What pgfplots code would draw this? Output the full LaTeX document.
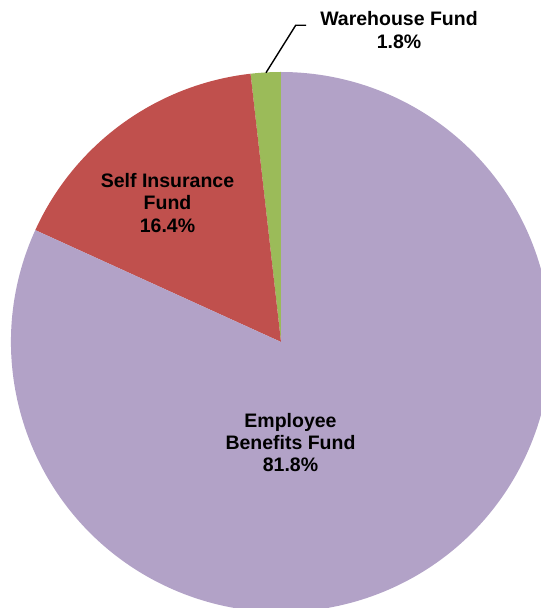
\documentclass[border=0pt]{standalone}
\usepackage{pgfplots}
\pgfplotsset{compat=1.18}
\usepackage{fontspec}
\setmainfont{Liberation Sans}
\definecolor{cpurple}{HTML}{B2A2C7}
\definecolor{cred}{HTML}{C0504D}
\definecolor{cgreen}{HTML}{9BBB59}
\begin{document}
\begin{tikzpicture}
\begin{axis}[scale only axis, width=541pt, height=608pt,
  xmin=0, xmax=541, ymin=0, ymax=608, hide axis, clip=true]
% shares (percent), counter-clockwise from 12 o'clock
\def\pW{1.8}\def\pS{16.4}\def\pE{81.8}
\fill[cgreen] (axis cs:281,266) -- ++(90:270pt)
  arc[start angle=90, end angle={90+3.6*\pW}, radius=270pt] -- cycle;
\fill[cred] (axis cs:281,266) -- ++({90+3.6*\pW}:270pt)
  arc[start angle={90+3.6*\pW}, end angle={90+3.6*(\pW+\pS)}, radius=270pt] -- cycle;
\fill[cpurple] (axis cs:281,266) -- ++({90+3.6*(\pW+\pS)}:270pt)
  arc[start angle={90+3.6*(\pW+\pS)}, end angle={90+3.6*(\pW+\pS+\pE)}, radius=270pt] -- cycle;
\draw[black, line width=1.4pt] (axis cs:266,535.3) -- (axis cs:295.7,582.7) -- (axis cs:306,582.7);
\begin{scope}[every node/.style={anchor=base, inner sep=0pt, font=\bfseries\fontsize{19.5}{22.5}\selectfont}]
\node at (axis cs:399,582) {Warehouse Fund};
\node at (axis cs:399,559.3) {1.8\%};
\node at (axis cs:167.5,420.3) {Self Insurance};
\node at (axis cs:167.5,398) {Fund};
\node at (axis cs:167.5,375.3) {16.4\%};
\node at (axis cs:290.5,180.7) {Employee};
\node at (axis cs:290.5,158.7) {Benefits Fund};
\node at (axis cs:290.5,136.3) {81.8\%};
\end{scope}
\end{axis}
\pgfresetboundingbox
\useasboundingbox (current axis.south west) rectangle (current axis.north east);
\end{tikzpicture}
\end{document}
